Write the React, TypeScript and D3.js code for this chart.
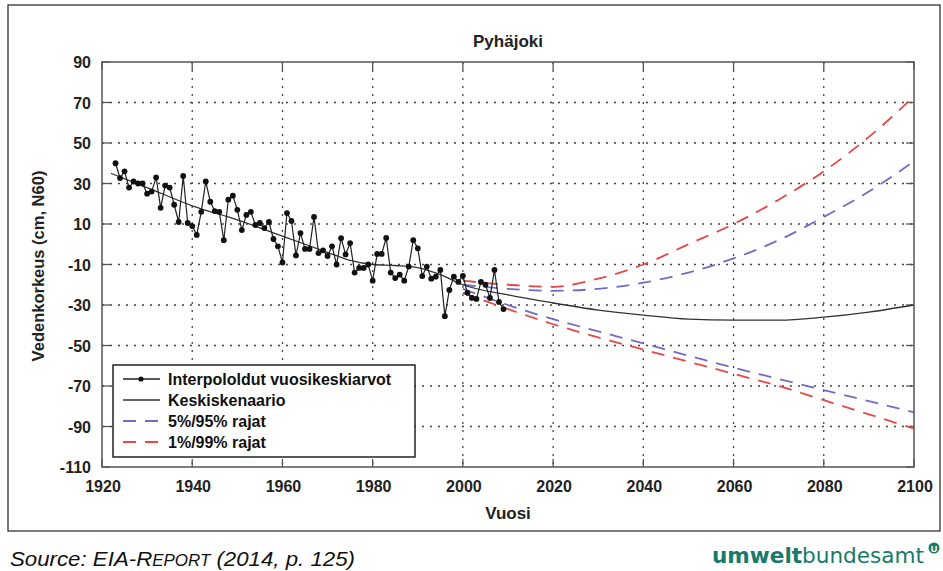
import React from 'react';
import * as d3 from 'd3';

// annual means (interpolated), 1923..2009
const firstYear = 1923;
const annualMeans = [
  40, 32.7, 36, 28, 31, 30, 30, 25, 26, 33, 18, 29, 28, 19.5, 11, 33.7, 10.5,
  9, 4.6, 16, 31, 21, 16.4, 16, 2, 22, 24,
  17, 7, 14.5, 16, 9.5, 10.5, 8, 11, 2.6, -1,
  -9, 15.4, 11.5, -5.5, 5.5, -2.3, -2.3, 13.5, -4.4, -3,
  -5.8, -1, -10, 3, -5, 0.6, -14, -11.7, -11.7, -10,
  -18, -4.8, -4.8, 3.1, -14, -16.7, -15, -18, -11, 2,
  -2, -15.7, -11, -17, -16, -12.7, -35.5, -22.6, -16, -18.6,
  -15.6, -24, -26.5, -27, -18.6, -20, -26.5, -12.7, -28.5, -32,
];

// mean scenario (Keskiskenaario)
const meanYears = [1922, 1930, 1940, 1950, 1960, 1970, 1975, 1980, 1985, 1990, 1995, 2000, 2010, 2020, 2030, 2040, 2050, 2060, 2070, 2080, 2090, 2100];
const meanValues = [35, 28, 19, 12, 4, -4, -8, -10, -10.5, -11.5, -15, -20, -25, -29, -32.5, -35, -37, -37.5, -37.5, -36, -33.5, -30];

// bounds
const boundYears = [2000, 2010, 2020, 2030, 2040, 2050, 2060, 2070, 2080, 2090, 2100];
const p95 = [-20, -22, -23, -22, -19, -14, -7, 2, 13.5, 26, 41];
const p5 = [-22, -30, -37, -43, -49, -55, -61, -66.5, -72, -77.5, -83];
const p99 = [-18, -20, -21, -17, -10, 0, 10, 22, 36, 53, 73];
const p1 = [-24, -32, -39.5, -46, -52, -58, -64, -70, -77, -84, -91];

const xTicks = [1920, 1940, 1960, 1980, 2000, 2020, 2040, 2060, 2080, 2100];
const yTicks = [90, 70, 50, 30, 10, -10, -30, -50, -70, -90, -110];

const legendLabels = ['Interpololdut vuosikeskiarvot', 'Keskiskenaario', '5%/95% rajat', '1%/99% rajat'];

const BLUE = '#6f6cc8';
const RED = '#e64848';
const AXIS = '#555';
const TEAL = '#187a6a';

export default function App() {
  const m = { left: 102, right: 914, top: 62, bottom: 467 };
  const x = d3.scaleLinear().domain([1920, 2100]).range([m.left, m.right]);
  const y = d3.scaleLinear().domain([-110, 90]).range([m.bottom, m.top]);

  const pts = annualMeans.map((v, i) => [firstYear + i, v] as [number, number]);
  const straight = d3.line<[number, number]>().x(d => x(d[0])).y(d => y(d[1]));
  const smooth = d3.line<[number, number]>().x(d => x(d[0])).y(d => y(d[1])).curve(d3.curveMonotoneX);
  const zipB = (vals: number[]) => boundYears.map((yr, i) => [yr, vals[i]] as [number, number]);
  const meanPts = meanYears.map((yr, i) => [yr, meanValues[i]] as [number, number]);

  const font = '"Liberation Sans", Arial, sans-serif';
  const tickFs = 16;

  const lx = 113, ly = 365, lw = 302, lh = 92;
  const rowY = (i: number) => ly + 14 + i * 21;

  return (
    <svg width={943} height={571} style={{ position: 'absolute', left: 0, top: 0, background: '#fff' }} fontFamily={font}>
      <rect x={0} y={0} width={943} height={571} fill="#fff" />
      {/* outer frame */}
      <rect x={8} y={5} width={932} height={526} fill="none" stroke="#333" strokeWidth={1.3} />

      {/* grid */}
      <g stroke="#444" strokeWidth={1.3} strokeDasharray="2,6">
        {xTicks.slice(1, -1).map(t => (
          <line key={'gx' + t} x1={x(t)} x2={x(t)} y1={m.top} y2={m.bottom} />
        ))}
        {yTicks.slice(1, -1).map(t => (
          <line key={'gy' + t} x1={m.left} x2={m.right} y1={y(t)} y2={y(t)} />
        ))}
      </g>

      {/* ticks inward */}
      <g stroke={AXIS} strokeWidth={1.3}>
        {xTicks.map(t => (
          <g key={'tx' + t}>
            <line x1={x(t)} x2={x(t)} y1={m.bottom} y2={m.bottom - 8} />
            <line x1={x(t)} x2={x(t)} y1={m.top} y2={m.top + 8} />
          </g>
        ))}
        {yTicks.map(t => (
          <g key={'ty' + t}>
            <line x1={m.left} x2={m.left + 8} y1={y(t)} y2={y(t)} />
            <line x1={m.right} x2={m.right - 8} y1={y(t)} y2={y(t)} />
          </g>
        ))}
      </g>

      {/* bounds */}
      <g fill="none" strokeWidth={1.8} strokeDasharray="13,9">
        <path d={smooth(zipB(p99)) || ''} stroke={RED} />
        <path d={smooth(zipB(p1)) || ''} stroke={RED} />
        <path d={smooth(zipB(p95)) || ''} stroke={BLUE} />
        <path d={smooth(zipB(p5)) || ''} stroke={BLUE} />
      </g>

      {/* mean scenario */}
      <path d={smooth(meanPts) || ''} fill="none" stroke="#333" strokeWidth={1.3} />

      {/* annual means */}
      <path d={straight(pts) || ''} fill="none" stroke="#222" strokeWidth={1.2} />
      <g fill="#111">
        {pts.map(d => (
          <circle key={'p' + d[0]} cx={x(d[0])} cy={y(d[1])} r={2.9} />
        ))}
      </g>

      {/* frame */}
      <rect x={m.left} y={m.top} width={m.right - m.left} height={m.bottom - m.top} fill="none" stroke={AXIS} strokeWidth={1.5} />

      {/* tick labels */}
      <g fontSize={tickFs} fontWeight="bold" fill="#222">
        {xTicks.map(t => (
          <text key={'lx' + t} x={x(t) + 1} y={m.bottom + 25} textAnchor="middle">{t}</text>
        ))}
        {yTicks.map(t => (
          <text key={'ly' + t} x={m.left - 11} y={y(t) + 6} textAnchor="end">{t}</text>
        ))}
      </g>

      {/* titles */}
      <text x={508} y={47} textAnchor="middle" fontSize={17} fontWeight="bold" fill="#222">Pyhäjoki</text>
      <text x={508} y={519} textAnchor="middle" fontSize={17} fontWeight="bold" fill="#222">Vuosi</text>
      <text transform={`translate(44,266) rotate(-90)`} textAnchor="middle" fontSize={16.5} fontWeight="bold" fill="#222">Vedenkorkeus (cm, N60)</text>

      {/* legend */}
      <rect x={lx} y={ly} width={lw} height={lh} fill="#fff" stroke="#222" strokeWidth={1.5} />
      <g>
        <line x1={123} x2={160} y1={rowY(0)} y2={rowY(0)} stroke="#222" strokeWidth={1.3} />
        <circle cx={141} cy={rowY(0)} r={2.6} fill="#111" />
        <line x1={123} x2={160} y1={rowY(1)} y2={rowY(1)} stroke="#333" strokeWidth={1.3} />
        <line x1={123} x2={160} y1={rowY(2)} y2={rowY(2)} stroke={BLUE} strokeWidth={1.8} strokeDasharray="13,9" />
        <line x1={123} x2={160} y1={rowY(3)} y2={rowY(3)} stroke={RED} strokeWidth={2} strokeDasharray="13,9" />
        {legendLabels.map((s, i) => (
          <text key={s} x={168} y={rowY(i) + 6} fontSize={16} fontWeight="bold" fill="#111">{s}</text>
        ))}
      </g>

      {/* footer */}
      <text x={10} y={566} fontSize={21} fontStyle="italic" fill="#111" textLength={345} lengthAdjust="spacingAndGlyphs">
        Source: EIA-R<tspan fontSize={16}>EPORT</tspan> (2014, p. 125)
      </text>
      <text x={924} y={563} textAnchor="end" fontSize={22} fill={TEAL} fontFamily='"DejaVu Sans", sans-serif' textLength={212} lengthAdjust="spacingAndGlyphs">
        <tspan fontWeight="bold">umwelt</tspan>bundesamt
      </text>
      <circle cx={934} cy={548} r={5.5} fill={TEAL} />
      <text x={934} y={551.5} textAnchor="middle" fontSize={9} fontWeight="bold" fill="#fff">U</text>
    </svg>
  );
}
